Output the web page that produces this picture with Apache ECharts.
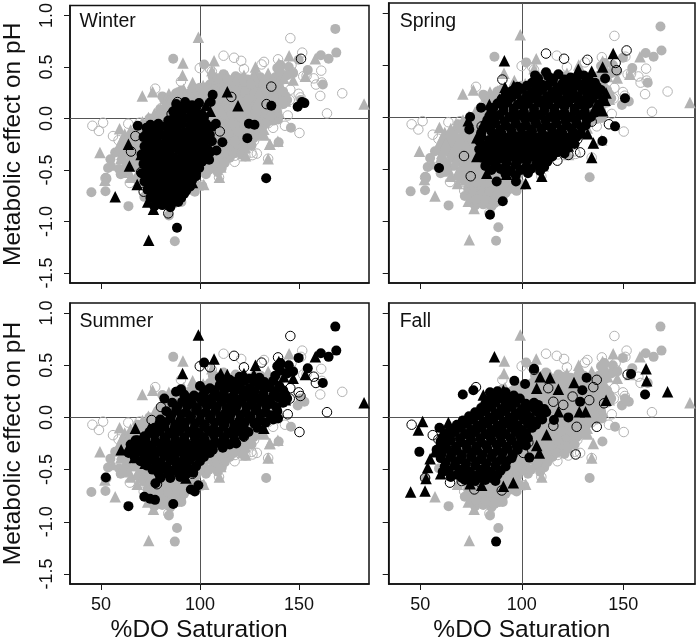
<!DOCTYPE html>
<html><head><meta charset="utf-8">
<style>html,body{margin:0;padding:0;background:#fff}#c{width:697px;height:640px}</style>
<script src="https://cdn.jsdelivr.net/npm/echarts@6/dist/echarts.min.js"></script>
</head><body><div id="c"></div>
<script>
const xTicks=[50,100,150];
const yTicks=[-1.5,-1,-0.5,0,0.5,1];
const seasons=['Winter','Spring','Summer','Fall'];
const xName='%DO Saturation';
const yName='Metabolic effect on pH';

const winterCircles=[[106.4,.23],[105.4,.16],[68.6,-.07],[124.7,-.05],[127.5,-.06],[123.9,-.19],[111.3,-.23],[108.3,-.31],[104.6,-.4],[136,.125],[149.3,.115],[151.5,.16],[152.7,.15],[133.4,-.58],[88.4,-1.06],[108,-.05],[104.2,-.16],[99.6,-.48],
[88,.14],[92.5,.16],[96,.13],[99.5,.15],[86.5,.07],[90,.05],[94,.09],[97.5,.06],[101,.04],[84,-.02],[88.5,-.03],[92,0],[96,-.04],[100,-.01],[103,-.05],
[73,-.09],[76.5,-.11],[80,-.08],[84,-.12],[88,-.1],[92,-.13],[96,-.09],[100,-.12],[104,-.09],
[71.5,-.18],[75,-.2],[79,-.16],[83,-.19],[87,-.21],[91,-.17],[95,-.2],[99,-.18],[102.5,-.21],
[72,-.27],[76,-.25],[80,-.29],[84,-.26],[88,-.28],[92,-.25],[96,-.29],[100,-.27],[104,-.3],
[70.5,-.35],[75,-.37],[79,-.34],[83,-.36],[87,-.38],[91,-.35],[95,-.37],[99,-.35],[102,-.38],
[71.5,-.44],[75.5,-.45],[79.5,-.43],[83.5,-.46],[87.5,-.44],[91.5,-.46],[95.5,-.43],[98.5,-.46],
[70.5,-.53],[74.5,-.52],[78.5,-.54],[82.5,-.52],[86.5,-.54],[90.5,-.52],[94.5,-.55],[98,-.53],
[72,-.61],[76,-.62],[80,-.6],[84,-.63],[88,-.61],[92,-.62],[96,-.6],
[73.5,-.69],[77.5,-.7],[81.5,-.68],[85.5,-.71],[89.5,-.69],[93,-.7],
[75,-.77],[79,-.78],[83,-.76],[87,-.79],[90.5,-.77],[77,-.85],[81,-.84],[85,-.86]];
const winterFill=[[90,.11],[94,.12],[98,.1],[87,.02],[91,.03],[95,.01],[99,.03],[102,.01],
[75,-.06],[79,-.05],[83,-.07],[87,-.06],[91,-.05],[95,-.07],[99,-.06],[103,-.1],[106,-.08],
[73,-.15],[77,-.14],[81,-.16],[85,-.15],[89,-.14],[93,-.16],[97,-.15],[101,-.14],[105,-.16],
[74,-.23],[78,-.22],[82,-.24],[86,-.23],[90,-.22],[94,-.24],[98,-.23],[102,-.25],[106,-.22],
[73,-.31],[77,-.3],[81,-.32],[85,-.31],[89,-.3],[93,-.32],[97,-.31],[101,-.3],[105,-.33],
[73,-.4],[77,-.41],[81,-.39],[85,-.41],[89,-.4],[93,-.41],[97,-.39],[101,-.42],
[73,-.49],[77,-.48],[81,-.5],[85,-.49],[89,-.48],[93,-.5],[97,-.49],
[74,-.57],[78,-.58],[82,-.56],[86,-.58],[90,-.57],[94,-.58],[98,-.56],
[75,-.65],[79,-.66],[83,-.64],[87,-.66],[91,-.65],[95,-.66],
[76,-.73],[80,-.74],[84,-.72],[88,-.74],[92,-.73],[78,-.81],[82,-.8],[86,-.82],[89,-.81]];
const winterTriangles=[[113.8,.26],[119.2,.125],[63.9,-.25],[64.4,-.46],[57.2,-.76],[74.1,-1.18],[68.3,-.64],[76.5,-.88],[73.6,-.81],[96.2,-.62],[103,.13],[105.2,.07],[70.3,-.35]];
const winterOpen=[[151,.58],[136,.31],[133.6,.14],[115.8,.21],[110,-.125],[88.7,.16],[85.7,.045],[67.4,-.17],[65.2,-.32],[70.3,-.52],[71.6,-.71],[84,-.92],[94.6,-.66]];

const springCircles=[[79.9,.09],[74.5,0],[74.1,-.12],[59.2,-.49],[84.3,-.94],[90.6,-.81],[87.6,-.62],[97.1,-.62],[150.8,.18],[145.9,-.09],[139.7,-.23],[141,.37],[111.9,.43],[106.5,.4],
[113,.39],[118,.41],[124,.38],[130.5,.4],
[105,.33],[110,.31],[115,.34],[120,.32],[125,.33],[130,.31],[136,.33],
[95,.25],[100,.27],[105,.24],[110,.26],[115,.24],[120,.26],[125,.24],[130,.26],[135,.24],[139,.26],
[90,.17],[95,.19],[100,.16],[105,.18],[110,.16],[115,.18],[120,.16],[125,.18],[130,.16],[135,.18],[140,.16],
[86,.09],[91,.1],[96,.08],[101,.1],[106,.08],[111,.1],[116,.08],[121,.1],[126,.08],[131,.1],[137,.08],
[84,.01],[89,.02],[94,0],[99,.02],[104,0],[109,.02],[114,0],[119,.02],[124,0],[129,.02],[134,0],
[82,-.07],[87,-.06],[92,-.08],[97,-.06],[102,-.08],[107,-.06],[112,-.08],[117,-.06],[122,-.08],[127,-.06],[131.5,-.08],
[80,-.15],[85,-.14],[90,-.16],[95,-.14],[100,-.16],[105,-.14],[110,-.16],[115,-.14],[120,-.16],[125,-.14],[129,-.16],
[79,-.23],[84,-.22],[89,-.24],[94,-.22],[99,-.24],[104,-.22],[109,-.24],[114,-.22],[119,-.24],[124,-.22],
[79,-.31],[84,-.3],[89,-.32],[94,-.3],[99,-.32],[104,-.3],[109,-.32],[114,-.3],[119,-.32],[122.5,-.3],
[80,-.39],[85,-.38],[90,-.4],[95,-.38],[100,-.4],[105,-.38],[110,-.4],[115,-.38],
[82,-.47],[87,-.46],[92,-.48],[97,-.46],[102,-.48],[107,-.46],[111,-.48],[92,-.55],[97,-.56],[103,-.54]];
const springFill=[[108,.37],[115.5,.37],[121,.36],[127,.37],[133,.36],
[98,.29],[102.5,.3],[107.5,.29],[112.5,.3],[117.5,.28],[122.5,.29],[127.5,.3],[132.5,.28],[137,.29],
[92,.21],[97.5,.22],[102.5,.21],[107.5,.22],[112.5,.2],[117.5,.21],[122.5,.22],[127.5,.2],[132.5,.21],[137.5,.22],
[88,.13],[93,.14],[98,.12],[103,.13],[108,.14],[113,.12],[118,.13],[123,.14],[128,.12],[133,.13],[138,.12],
[85,.05],[91,.06],[96,.04],[101,.05],[106,.04],[111,.06],[116,.05],[121,.04],[126,.06],[131,.05],[136,.04],
[83,-.03],[86.5,-.02],[91.5,-.04],[96.5,-.03],[101.5,-.02],[106.5,-.04],[111.5,-.03],[116.5,-.02],[121.5,-.04],[126.5,-.03],[132,-.03],
[81,-.11],[84.5,-.1],[89.5,-.12],[94.5,-.11],[99.5,-.1],[104.5,-.12],[109.5,-.11],[114.5,-.1],[119.5,-.12],[124.5,-.11],[129.5,-.1],
[80,-.19],[87,-.18],[92,-.2],[97,-.19],[102,-.18],[107,-.2],[112,-.19],[117,-.18],[122,-.2],[127,-.19],
[81,-.27],[86.5,-.26],[91.5,-.28],[96.5,-.27],[101.5,-.26],[106.5,-.28],[111.5,-.27],[116.5,-.26],[121.5,-.27],[126,-.26],
[82,-.35],[87,-.34],[92,-.36],[97,-.35],[102,-.34],[107,-.36],[112,-.35],[117,-.34],[121,-.35],
[83,-.43],[87.5,-.42],[92.5,-.44],[97.5,-.43],[102.5,-.42],[107.5,-.44],[112.5,-.43],
[85,-.51],[89.5,-.5],[94.5,-.52],[99.5,-.51],[104.5,-.5],[109,-.52]];
const springTriangles=[[91.4,.54],[145,.61],[139.8,.48],[134.4,.44],[127.8,.46],[141.5,.23],[141,.16],[139.8,.06],[132.4,-.16],[135.2,-.25],[134.4,-.39],[122.9,-.28],[109.8,-.57],[101.9,-.64],[92.5,-.55],[82.7,-.54],[77.8,-.38],[77.8,-.2],[73.6,-.035],[88.9,.17],[91.7,.285],[96,.3],[84,.12]];
const springOpen=[[111.9,.61],[120.8,.56],[151.6,.64],[132.3,.55],[146.2,.52],[146.7,.45],[90.4,.36],[71.5,-.375],[74.8,-.57],[117.5,-.42],[128.7,-.34],[127.3,-.215],[134.4,-.045],[142.9,-.07],[136.9,.285],[118,.38],[80.2,-.09],[122.9,-.365]];

const summerCircles=[[168.3,.87],[168.8,.64],[161,.615],[164.9,.58],[149.8,.57],[154.4,.47],[162,.33],[102.1,.525],[139.4,-.01],[118.3,-.25],[52.5,-.575],[63.9,-.85],[71.9,-.76],[74.8,-.78],[77.3,-.79],[86.5,-.83],[95.4,-.69],[97.4,-.71],[99.2,-.65],[77.5,-.63],[80,-.58],[96.6,-.53],[68.6,-.22],[82,.18],[87.9,.245],[90.4,.27],[139,.49],[144.8,.5],[140.6,.52],
[110,.38],[115,.36],[120,.39],[125,.37],[130,.38],
[100,.3],[105,.28],[110,.31],[115,.29],[120,.3],[125,.28],[130,.31],[135,.29],[140,.3],
[92,.22],[97,.21],[102,.23],[107,.21],[112,.23],[117,.21],[122,.23],[127,.21],[132,.23],[137,.21],[143,.22],
[86,.14],[91,.15],[96,.13],[101,.15],[106,.13],[111,.15],[116,.13],[121,.15],[126,.13],[131,.15],[136,.13],[142,.14],
[83,.06],[88,.07],[93,.05],[98,.07],[103,.05],[108,.07],[113,.05],[118,.07],[123,.05],[128,.07],[133,.05],[139,.06],
[80,-.02],[85,-.01],[90,-.03],[95,-.01],[100,-.03],[105,-.01],[110,-.03],[115,-.01],[120,-.03],[125,-.01],[130,-.03],[137,-.02],
[77,-.1],[82,-.09],[87,-.11],[92,-.09],[97,-.11],[102,-.09],[107,-.11],[112,-.09],[117,-.11],[122,-.09],[129,-.1],
[72,-.18],[77,-.17],[82,-.19],[87,-.17],[92,-.19],[97,-.17],[102,-.19],[107,-.17],[112,-.19],[117,-.17],[122,-.18],
[65,-.26],[70,-.25],[75,-.27],[80,-.25],[85,-.27],[90,-.25],[95,-.27],[100,-.25],[105,-.27],[110,-.25],[115,-.26],
[64,-.34],[69,-.33],[74,-.35],[79,-.33],[84,-.35],[89,-.33],[94,-.35],[99,-.33],[105,-.34],
[70,-.42],[75,-.41],[80,-.43],[85,-.41],[90,-.43],[95,-.41],[100,-.42],
[76,-.5],[81,-.49],[86,-.51],[91,-.49],[95,-.5],[80,-.57],[85,-.58],[90,-.57]];
const summerFill=[[138,.4],[144,.42],[147,.44],[140.5,.45],[112.5,.34],[117.5,.34],[122.5,.35],[127.5,.34],[132.5,.34],[137,.35],
[102.5,.26],[107.5,.26],[112.5,.27],[117.5,.25],[122.5,.26],[127.5,.25],[132.5,.27],[137.5,.25],[142,.26],
[94.5,.18],[99.5,.19],[104.5,.17],[109.5,.19],[114.5,.18],[119.5,.17],[124.5,.19],[129.5,.18],[134.5,.17],[139.5,.19],[144,.18],
[88.5,.1],[93.5,.11],[98.5,.09],[103.5,.11],[108.5,.1],[113.5,.09],[118.5,.11],[123.5,.1],[128.5,.09],[133.5,.11],[138.5,.1],
[85.5,.02],[90.5,.03],[95.5,.01],[100.5,.03],[105.5,.02],[110.5,.01],[115.5,.03],[120.5,.02],[125.5,.01],[130.5,.03],[135.5,.02],
[79.5,-.06],[82.5,-.05],[87.5,-.07],[92.5,-.05],[97.5,-.06],[102.5,-.07],[107.5,-.05],[112.5,-.06],[117.5,-.07],[122.5,-.05],[127.5,-.06],[133,-.05],
[74.5,-.14],[79.5,-.13],[84.5,-.15],[89.5,-.13],[94.5,-.14],[99.5,-.15],[104.5,-.13],[109.5,-.14],[114.5,-.15],[119.5,-.13],[124.5,-.14],
[67.5,-.22],[72.5,-.21],[77.5,-.23],[82.5,-.21],[87.5,-.22],[92.5,-.23],[97.5,-.21],[102.5,-.22],[107.5,-.23],[112.5,-.21],[117.5,-.22],
[66.5,-.3],[71.5,-.29],[76.5,-.31],[81.5,-.29],[86.5,-.3],[91.5,-.31],[96.5,-.29],[101.5,-.3],[106.5,-.31],[111.5,-.29],
[67,-.38],[72,-.37],[77,-.39],[82,-.37],[87,-.38],[92,-.39],[97,-.37],[102,-.38],
[73,-.46],[78,-.45],[83,-.47],[88,-.45],[93,-.46],[98,-.47],[79,-.53],[84,-.54],[89,-.53],[93,-.54]];
const summerTriangles=[[99.2,.79],[107.1,.56],[91.2,.42],[110.5,.42],[113.8,.41],[122.2,.42],[128,.5],[127.2,.41],[139.8,.535],[142.3,.39],[147,.375],[158.2,.58],[153.2,.41],[182.8,.14],[60.2,-.31],[64.4,-.27],[67.4,-.105],[74.5,-.105],[66.9,-.385],[72.3,-.44],[92.9,-.58],[132.2,-.105],[138.1,.23],[143.1,.17]];
const summerOpen=[[145.6,.78],[117.2,.59],[99.9,.49],[105.1,.48],[122.2,.48],[131.1,.525],[139.4,.575],[145.6,.28],[149.8,.24],[150.7,.205],[145.3,.18],[144.3,.03],[150.2,-.14],[164.1,.05],[157.4,.39],[158.5,.33],[75.6,-.025],[80.3,.1],[78.3,-.64],[96.2,-.54],[122.2,-.185],[133.9,-.035]];

const fallCircles=[[49.5,-.33],[70.9,.22],[76.1,.26],[84.3,.24],[96.3,.35],[101.6,.32],[106,.465],[131.9,.38],[129.8,.26],[122.9,0],[115.8,-.025],[103.7,-.385],[59.4,-.1],[128.7,.15],
[88,.25],[92,.24],[84,.17],[89,.18],[94,.16],[99,.18],
[80,.09],[85,.1],[90,.08],[95,.1],[100,.08],[105,.1],[108,.12],
[74,.01],[79,.02],[84,0],[89,.02],[94,0],[99,.02],[104,0],[109,.02],[112,.05],
[68,-.07],[73,-.06],[78,-.08],[83,-.06],[88,-.08],[93,-.06],[98,-.08],[103,-.06],[107,-.07],
[62,-.15],[67,-.14],[72,-.16],[77,-.14],[82,-.16],[87,-.14],[92,-.16],[97,-.14],[102,-.15],
[60,-.23],[65,-.22],[70,-.24],[75,-.22],[80,-.24],[85,-.22],[90,-.24],[95,-.22],[100,-.23],
[58,-.31],[63,-.3],[68,-.32],[73,-.3],[78,-.32],[83,-.3],[88,-.32],[93,-.3],[98,-.31],
[60,-.39],[65,-.38],[70,-.4],[75,-.38],[80,-.4],[85,-.38],[90,-.4],[95,-.39],
[62,-.47],[67,-.46],[72,-.48],[77,-.46],[82,-.48],[87,-.46],[92,-.47],
[68,-.55],[73,-.54],[78,-.56],[83,-.54],[88,-.55],[72,-.6],[77,-.61],[82,-.6],[87,-.61]];
const fallFill=[[86,.21],[91,.2],[96,.21],[82,.13],[87,.14],[92,.12],[97,.14],[102,.13],[106,.14],
[77,.05],[82,.06],[87,.04],[92,.06],[97,.04],[102,.05],[107,.06],[111,.08],
[71,-.03],[76,-.02],[81,-.04],[86,-.02],[91,-.04],[96,-.03],[101,-.02],[106,-.04],[110,-.02],
[65,-.11],[70,-.1],[75,-.12],[80,-.1],[85,-.12],[90,-.11],[95,-.1],[100,-.12],[105,-.1],
[61,-.19],[64.5,-.18],[69.5,-.2],[74.5,-.18],[79.5,-.2],[84.5,-.19],[89.5,-.18],[94.5,-.2],[99.5,-.19],[103,-.2],
[60,-.27],[62.5,-.26],[67.5,-.28],[72.5,-.26],[77.5,-.28],[82.5,-.27],[87.5,-.26],[92.5,-.28],[97.5,-.27],[102,-.27],
[60.5,-.35],[65.5,-.34],[70.5,-.36],[75.5,-.34],[80.5,-.36],[85.5,-.35],[90.5,-.34],[95.5,-.36],
[62.5,-.43],[67.5,-.42],[72.5,-.44],[77.5,-.42],[82.5,-.44],[87.5,-.43],[92.5,-.42],
[64,-.51],[69.5,-.5],[74.5,-.52],[79.5,-.5],[84.5,-.52],[89.5,-.51],[70.5,-.58],[75,-.58],[80,-.58],[85,-.58],[65,-.57],[61,-.52]];
const fallCirclesGreyOpen=[[153.8,.415],[160.7,.22]];
const fallCirclesGreyCircle=[[87.3,-1.19]];
const fallOpen=[[45.7,-.07],[77.4,.29],[106,.455],[136.9,.36],[135.2,.29],[113,.28],[115.5,.15],[120.4,.12],[125,.2],[133.2,.165],[140.5,.135],[152.1,.41],[136.9,-.09],[127,-.09],[115.5,-.08],[126.5,-.355],[103.2,-.24],[100.7,-.34],[97.5,-.3],[90.1,-.7],[76.6,-.69],[64.6,-.625],[70.4,-.61],[52.3,-.58],[56.1,-.17],[58.9,-.21]];
const fallTrianglesGreyOpen=[[51.1,-.04],[49,-.12],[63.8,-.05],[69.5,-.04],[161.2,.465],[161.5,.35],[171.8,.245]];
const fallTrianglesGreyCircle=[[86.5,.58],[45.2,-.715],[52.3,-.705],[52.8,-.585],[53.6,-.48],[141.5,.165],[131.4,.055],[125.7,.335],[118,.27],[113.9,.38],[109,.39],[107.3,.28],[81,.215],[90.9,.26],[118,.055],[128.3,.055],[112.2,-.165],[107.3,-.27],[108.6,-.34],[95.8,-.625],[90.9,-.66],[80.2,-.65],[74.5,-.635],[60,-.54],[54.8,-.395],[57.2,-.33]];
const sharedGreyTriangles=[[110.5,-.47],[123,-.36],[135.3,-.25],[139.3,-.22],[52,-.6],[56,-.45]];
const sharedGreyOpen=[[117.7,-.36],[134.4,-.39],[109.6,-.57],[101,-.65],[113,-.36],[126,-.33]];

const GREY='#b3b3b3', BLACK='#000';
const blackLayers={
 Winter:{circle:[winterCircles,winterFill],triangle:[winterTriangles],open:[winterOpen]},
 Spring:{circle:[springCircles,springFill],triangle:[springTriangles],open:[springOpen]},
 Summer:{circle:[summerCircles,summerFill],triangle:[summerTriangles],open:[summerOpen]},
 Fall:{circle:[fallCircles,fallFill,fallCirclesGreyOpen,fallCirclesGreyCircle],triangle:[fallTrianglesGreyOpen,fallTrianglesGreyCircle],open:[fallOpen]}
};
const greyLayers={
 Winter:{circle:[winterCircles,winterFill],triangle:[winterTriangles],open:[winterOpen]},
 Spring:{circle:[springCircles,springFill],triangle:[springTriangles],open:[springOpen]},
 Summer:{circle:[summerCircles,summerFill],triangle:[summerTriangles],open:[summerOpen]},
 Fall:{circle:[fallCirclesGreyCircle,fallTrianglesGreyCircle],triangle:[fallCircles,fallFill],open:[fallOpen,fallCirclesGreyOpen,fallTrianglesGreyOpen]}
};

const grids=[
 {left:68.5,top:3,width:300.5,height:280},
 {left:388.7,top:3,width:306.3,height:280},
 {left:68.5,top:303,width:300.5,height:281},
 {left:388.7,top:303,width:306.3,height:281}
];
const sizes={circle:10,triangle:11.5,open:9.5};
function mk(idx,kind,data,color,z){
 const open=kind==='open';
 return {type:'scatter',xAxisIndex:idx,yAxisIndex:idx,data,z,silent:true,clip:true,
  symbol:open?'circle':kind,symbolSize:sizes[kind],
  itemStyle:open?{color:'rgba(0,0,0,0)',borderColor:color,borderWidth:1,opacity:1}:{color,opacity:1},
  emphasis:{disabled:true},animation:false,progressive:0,large:false};
}
const opt={animation:false,backgroundColor:'#fff',grid:[],xAxis:[],yAxis:[],series:[],
 graphic:{elements:[]}};
const axisLine={show:true,onZero:false,lineStyle:{color:'#111',width:1.5}};
const FF='"Liberation Sans",Arial,sans-serif';
seasons.forEach((s,i)=>{
 const g=grids[i];
 opt.grid.push({left:g.left,top:g.top,width:g.width,height:g.height,show:true,borderColor:'#111',borderWidth:1.5,backgroundColor:'#fff',containLabel:false});
 opt.xAxis.push({type:'value',gridIndex:i,min:34.4,max:185.3,axisLine,splitLine:{show:false},
  axisTick:{show:true,length:6,customValues:xTicks,lineStyle:{color:'#1a1a1a',width:1}},
  axisLabel:{show:i>=2,customValues:xTicks,color:'#111',fontSize:18,fontFamily:FF,margin:12,hideOverlap:false,showMinLabel:true,showMaxLabel:true}});
 opt.yAxis.push({type:'value',gridIndex:i,min:-1.596,max:1.096,axisLine,splitLine:{show:false},
  axisTick:{show:true,length:6,customValues:yTicks,lineStyle:{color:'#1a1a1a',width:1}},
  axisLabel:{show:i%2===0,customValues:yTicks,rotate:90,color:'#111',fontSize:18,fontFamily:FF,margin:14,hideOverlap:false,showMinLabel:true,showMaxLabel:true,formatter:v=>v.toFixed(1),align:'center',verticalAlign:'bottom'},
  name:i%2===0?yName:'',nameLocation:'middle',nameGap:44,nameRotate:90,nameTextStyle:{fontSize:24.5,fontFamily:FF,color:'#111'}});
 opt.series.push({type:'scatter',xAxisIndex:i,yAxisIndex:i,data:[],z:1,silent:true,
  markLine:{silent:true,symbol:'none',animation:false,label:{show:false},z:1,
   lineStyle:{color:'#555',width:1,type:'solid'},
   data:[{xAxis:100},{yAxis:0}]}});
 seasons.forEach(o=>{
  if(o===s)return;
  ['circle','open','triangle'].forEach(k=>greyLayers[o][k].forEach(d=>opt.series.push(mk(i,k,d,GREY,2))));
 });
 [['triangle',sharedGreyTriangles],['open',sharedGreyOpen]].forEach(([k,d])=>{ if(s!=='Fall'||k==='open') opt.series.push(mk(i,k,d,GREY,2)); });
 ['circle','open','triangle'].forEach(k=>blackLayers[s][k].forEach(d=>opt.series.push(mk(i,k,d,BLACK,3))));
 opt.graphic.elements.push({type:'text',left:g.left+11,top:g.top+9,z:20,style:{text:s,fontSize:19.5,fontFamily:FF,fill:'#111'}});
 if(i>=2){
  const px=g.left+(100-34.4)/(185.3-34.4)*g.width;
  opt.graphic.elements.push({type:'text',x:px,y:630,z:20,style:{text:xName,fontSize:24.5,fontFamily:FF,fill:'#111',align:'center',verticalAlign:'middle'}});
 }
});
const chart=echarts.init(document.getElementById('c'),null,{renderer:'canvas'});
chart.setOption(opt);
</script></body></html>
